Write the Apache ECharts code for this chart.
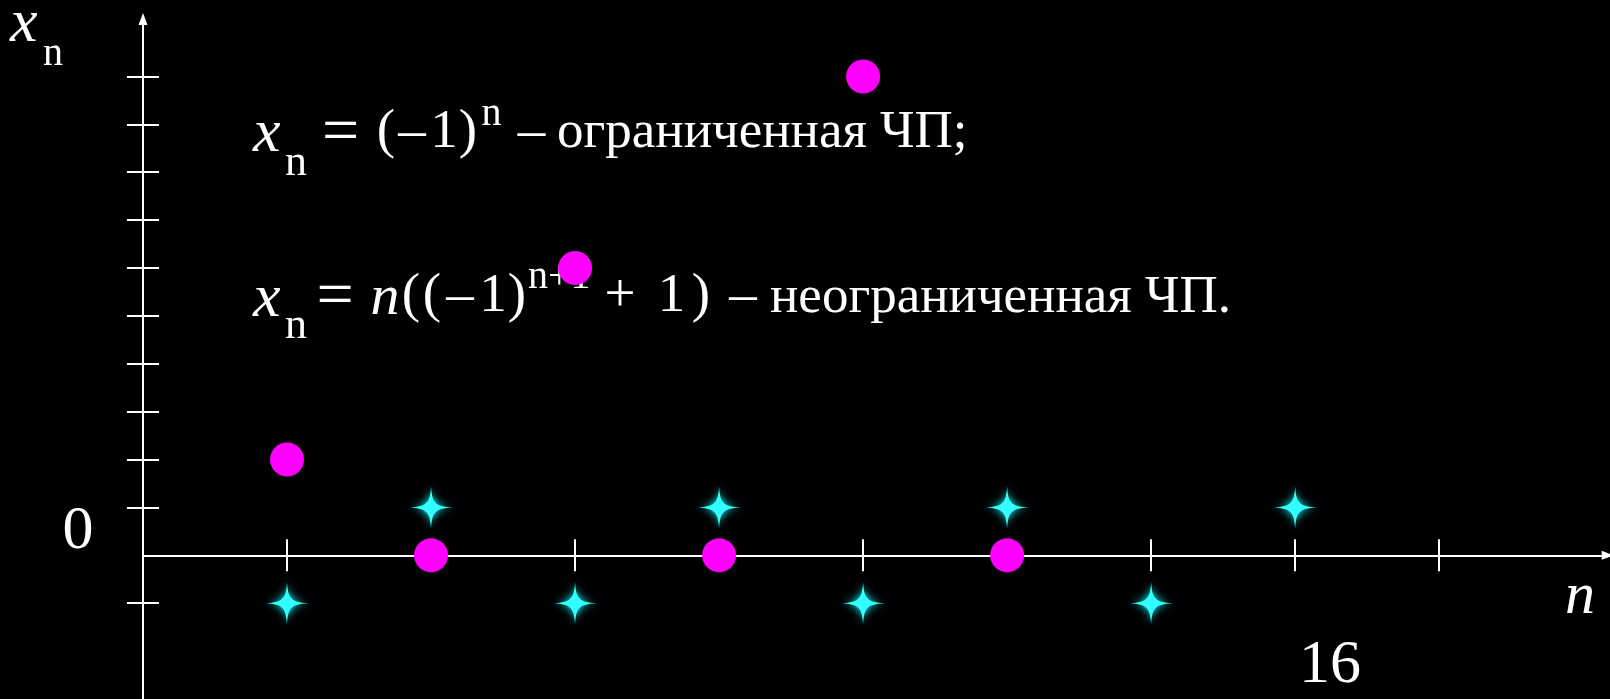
<!DOCTYPE html>
<html>
<head>
<meta charset="utf-8">
<script src="https://cdn.jsdelivr.net/npm/echarts@6/dist/echarts.min.js"></script>
<style>
html, body { margin: 0; padding: 0; background: #000; }
#chart { width: 1610px; height: 699px; }
</style>
</head>
<body>
<div id="chart"></div>
<script>
// x_n = (-1)^n
const boundedN = [1, 2, 3, 4, 5, 6, 7, 8]
const boundedValues = [-1, 1, -1, 1, -1, 1, -1, 1]
// x_n = n((-1)^(n+1) + 1)
const unboundedN = [1, 2, 3, 4, 5, 6]
const unboundedValues = [2, 0, 6, 0, 10, 0]
// tick marks
const xTicks = [1, 2, 3, 4, 5, 6, 7, 8, 9]
const yTicks = [-1, 1, 2, 3, 4, 5, 6, 7, 8, 9, 10]

const serif = "'Liberation Serif', 'Times New Roman', serif"
const white = '#ffffff'

const star = 'path://M0,-20 C1.2,-4 4,-1.2 20,0 C4,1.2 1.2,4 0,20 C-1.2,4 -4,1.2 -20,0 C-4,-1.2 -1.2,-4 0,-20 Z'

// text piece: x, baseline y, font size, italic, align
function piece (str, x, base, size, italic, align) {
  return {
    type: 'text',
    z: 1,
    x: x,
    y: base - 0.39 * size,
    style: {
      text: str,
      fill: white,
      font: (italic ? 'italic ' : '') + size + 'px ' + serif,
      align: align || 'center',
      verticalAlign: 'middle'
    }
  }
}

// formula lines, written piece by piece like the slide
function formulaLines () {
  const b1 = 154
  const b2 = 318.5
  return [
    piece('x', 253, b1 + 5, 62, true, 'left'),
    piece('n', 296, b1 + 27, 44),
    piece('=', 340.5, b1 + 6, 66),
    piece('(', 386, b1, 55),
    piece('–', 412, b1, 55),
    piece('1', 444, b1, 55),
    piece(')', 468, b1, 55),
    piece('n', 491.5, b1 - 24, 40),
    piece('–', 531.5, b1, 55),
    piece('ограниченная ЧП;', 557, b1, 53, false, 'left'),

    piece('x', 253, b2 + 5, 62, true, 'left'),
    piece('n', 296, b2 + 25, 44),
    piece('=', 335, b2 + 6, 66),
    piece('n', 385, b2 + 3, 58, true),
    piece('(', 411, b2, 55),
    piece('(', 432, b2, 55),
    piece('–', 460, b2, 55),
    piece('1', 493, b2, 55),
    piece(')', 517, b2, 55),
    piece('n+1', 528, b2 - 25, 40, false, 'left'),
    piece('+', 620, b2, 55),
    piece('1', 671.5, b2, 55),
    piece(')', 701, b2, 55),
    piece('–', 743, b2, 55),
    piece('неограниченная ЧП.', 770, b2, 53, false, 'left')
  ]
}

const axisLineStyle = { color: white, width: 2 }

const option = {
  backgroundColor: '#000000',
  animation: false,
  grid: { left: 143, right: 2.3, top: 19, bottom: -1.6 },
  xAxis: [
    {
      type: 'value', min: 0, max: 10.17, position: 'bottom',
      axisLine: { show: true, onZero: true, symbol: ['none', 'triangle'], symbolSize: [9, 12], lineStyle: axisLineStyle },
      axisTick: { show: true, inside: false, length: 16, customValues: xTicks, lineStyle: axisLineStyle },
      axisLabel: { show: false },
      splitLine: { show: false }
    },
    {
      type: 'value', min: 0, max: 10.17, position: 'bottom',
      axisLine: { show: false, onZero: true },
      axisTick: { show: true, inside: true, length: 16, customValues: xTicks, lineStyle: axisLineStyle },
      axisLabel: { show: false },
      splitLine: { show: false }
    }
  ],
  yAxis: [
    {
      type: 'value', min: -3, max: 11.2, position: 'left',
      axisLine: { show: true, onZero: false, symbol: ['none', 'triangle'], symbolSize: [9, 12], lineStyle: axisLineStyle },
      axisTick: { show: true, inside: false, length: 16, customValues: yTicks, lineStyle: axisLineStyle },
      axisLabel: { show: false },
      splitLine: { show: false }
    },
    {
      type: 'value', min: -3, max: 11.2, position: 'left',
      axisLine: { show: false, onZero: false },
      axisTick: { show: true, inside: true, length: 16, customValues: yTicks, lineStyle: axisLineStyle },
      axisLabel: { show: false },
      splitLine: { show: false }
    }
  ],
  graphic: formulaLines().concat([
    piece('x', 10, 49, 62, true, 'left'),
    piece('n', 53, 70, 40),
    piece('0', 78, 556, 62),
    piece('16', 1330, 690, 62),
    piece('n', 1565, 621, 60, true, 'left')
  ]),
  series: [
    {
      name: 'x_n = (-1)^n',
      type: 'scatter',
      z: 5,
      symbol: star,
      symbolSize: 42,
      itemStyle: { color: '#33ffff', opacity: 1, shadowBlur: 8, shadowColor: '#00ffff' },
      data: boundedN.map((n, i) => [n, boundedValues[i]])
    },
    {
      name: 'x_n = n((-1)^(n+1) + 1)',
      type: 'scatter',
      z: 5,
      symbol: 'circle',
      symbolSize: 34,
      itemStyle: { color: '#ff00ff', opacity: 1 },
      data: unboundedN.map((n, i) => [n, unboundedValues[i]])
    }
  ]
}

const chart = echarts.init(document.getElementById('chart'))
chart.setOption(option)
</script>
</body>
</html>
